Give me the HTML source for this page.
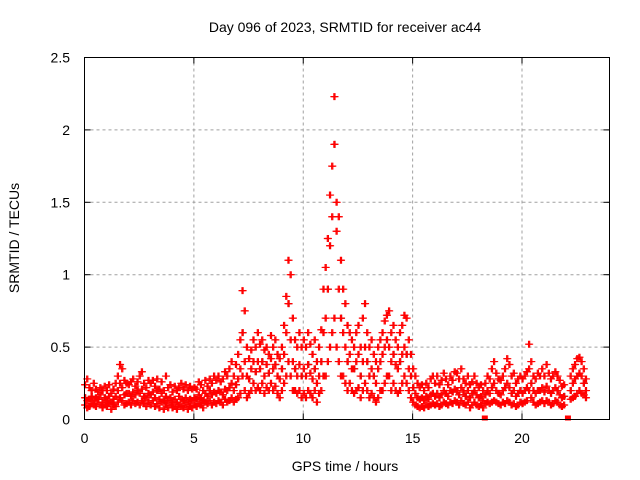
<!DOCTYPE html>
<html><head><meta charset="utf-8"><style>
body{margin:0;background:#fff;}
svg{display:block;font-family:"Liberation Sans",sans-serif;}
</style></head><body>
<svg id="chart" width="640" height="480" viewBox="0 0 640 480" xmlns="http://www.w3.org/2000/svg">
<rect width="640" height="480" fill="#fff"/>
<text x="345" y="32" font-size="14" text-anchor="middle">Day 096 of 2023, SRMTID for receiver ac44</text>
<text x="345" y="471" font-size="14" text-anchor="middle">GPS time / hours</text>
<text transform="translate(19,238) rotate(-90)" font-size="14" text-anchor="middle">SRMTID / TECUs</text>
<g id="grid"></g>
<g id="marks"></g>
<rect x="84.5" y="57.5" width="525" height="362" fill="none" stroke="#000" stroke-width="1"/>
<g id="ticks"></g>
</svg>
<script>
const xTicks=[0,5,10,15,20];
const yTicks=[0,0.5,1,1.5,2,2.5];
const yTickLabels=["0","0.5","1","1.5","2","2.5"];
const startHour=0, stepHour=0.1;
const srmtid=[
[.10,.15,.24],[.08,.13,.28],[.09,.14,.22],[.11,.16,.2],[.1,.13,.25],[.09,.15,.21],[.12,.14,.19],[.1,.17,.22],[.08,.12,.2],[.1,.15,.23],
[.09,.13,.2],[.11,.16,.24],[.07,.12,.18],[.1,.14,.21],[.09,.16,.25],[.12,.2,.3],[.15,.25,.38],[.13,.22,.35],[.1,.17,.27],[.11,.18,.25],
[.12,.18,.24],[.1,.16,.26],[.13,.19,.28],[.11,.17,.23],[.12,.2,.26],[.1,.18,.3],[.13,.21,.33],[.11,.16,.25],[.09,.15,.22],[.12,.18,.27],
[.1,.17,.25],[.13,.19,.27],[.09,.15,.23],[.11,.2,.28],[.08,.14,.21],[.12,.18,.26],[.07,.13,.2],[.1,.16,.3],[.08,.13,.22],[.1,.15,.24],
[.08,.12,.19],[.09,.14,.23],[.07,.12,.2],[.1,.16,.22],[.09,.14,.25],[.08,.13,.21],[.1,.15,.24],[.07,.12,.2],[.09,.14,.23],[.08,.13,.21],
[.1,.15,.22],[.09,.14,.21],[.11,.17,.26],[.1,.15,.24],[.08,.13,.2],[.12,.18,.27],[.11,.16,.23],[.13,.2,.28],[.1,.17,.25],[.12,.19,.3],
[.11,.18,.27],[.13,.2,.3],[.12,.19,.26],[.1,.17,.28],[.14,.21,.33],[.12,.2,.3],[.13,.22,.35],[.15,.25,.4],[.12,.2,.3],[.14,.24,.38],
[.15,.28,.45],[.18,.35,.55],[.3,.6,.89],[.2,.4,.75],[.15,.3,.5],[.18,.28,.42],[.2,.35,.48],[.25,.4,.55],[.2,.33,.5],[.22,.4,.6],
[.2,.35,.52],[.25,.4,.55],[.18,.3,.48],[.22,.38,.5],[.2,.32,.45],[.25,.42,.58],[.2,.35,.5],[.23,.38,.55],[.18,.3,.45],[.15,.28,.42],
[.2,.35,.5],[.25,.45,.65],[.3,.6,.85],[.4,.8,1.1],[.3,.55,1.0],[.2,.4,.7],[.2,.35,.55],[.18,.3,.5],[.2,.38,.6],[.15,.3,.5],
[.18,.35,.55],[.15,.3,.5],[.2,.38,.6],[.18,.32,.52],[.15,.28,.45],[.2,.35,.55],[.12,.25,.4],[.18,.3,.5],[.2,.4,.62],[.3,.6,.9],
[.3,.7,1.05],[.4,.9,1.25],[.5,1.2,1.55],[.6,1.4,1.75],[.7,1.9,2.23],[.5,1.3,1.5],[.4,.9,1.4],[.3,.7,1.1],[.3,.6,.9],[.25,.5,.8],
[.2,.4,.65],[.25,.45,.6],[.2,.35,.55],[.18,.35,.5],[.2,.4,.6],[.22,.45,.65],[.15,.3,.5],[.2,.4,.7],[.25,.5,.8],[.2,.4,.6],
[.15,.3,.5],[.18,.35,.55],[.15,.3,.45],[.12,.25,.4],[.15,.35,.5],[.2,.4,.55],[.2,.45,.6],[.25,.5,.68],[.3,.55,.72],[.3,.5,.75],
[.2,.4,.6],[.25,.45,.65],[.2,.38,.55],[.18,.35,.5],[.2,.4,.6],[.25,.45,.65],[.3,.5,.72],[.25,.45,.7],[.2,.35,.55],[.15,.3,.45],
[.12,.22,.35],[.1,.18,.3],[.09,.15,.25],[.08,.14,.22],[.09,.15,.24],[.08,.13,.2],[.1,.16,.25],[.09,.14,.22],[.1,.17,.28],[.11,.18,.3],
[.1,.16,.25],[.11,.18,.3],[.09,.15,.24],[.1,.17,.27],[.12,.2,.32],[.11,.18,.28],[.1,.16,.24],[.12,.2,.3],[.11,.19,.27],[.13,.21,.33],
[.12,.2,.32],[.1,.17,.28],[.13,.22,.35],[.11,.19,.28],[.1,.16,.25],[.12,.2,.3],[.08,.15,.24],[.1,.18,.26],[.12,.2,.3],[.1,.17,.25],
[.09,.15,.22],[.1,.16,.24],[.08,.13,.2],[.11,.17,.25],[.12,.2,.3],[.11,.18,.28],[.12,.22,.35],[.13,.25,.4],[.12,.2,.32],[.11,.18,.28],
[.1,.17,.27],[.12,.2,.3],[.11,.22,.35],[.13,.25,.42],[.12,.22,.38],[.1,.18,.3],[.11,.2,.32],[.09,.16,.25],[.1,.18,.28],[.12,.2,.3],
[.11,.18,.28],[.12,.2,.3],[.13,.22,.33],[.2,.35,.52],[.15,.25,.4],[.12,.2,.3],[.1,.18,.28],[.11,.2,.32],[.12,.2,.3],[.13,.22,.35],
[.11,.19,.3],[.13,.23,.38],[.12,.2,.32],[.1,.18,.28],[.11,.2,.3],[.13,.22,.33],[.12,.2,.3],[.1,.17,.27],[.09,.15,.23],[.1,.16,.24],
[],[],[.14,.2,.3],[.15,.25,.35],[.16,.28,.38],[.18,.3,.42],[.2,.32,.43],[.18,.3,.4],[.17,.25,.35],[.15,.2,.28]
];
const zeroHours=[18.3,22.1];
const zeroValues=[0,0];

const X0=84.5,X1=609.5,Y0=419.5,Y1=57.5;
const xs=h=>X0+(h-0)/(24-0)*(X1-X0);
const ys=v=>Y0-(v-0)/(2.5-0)*(Y0-Y1);
const NS="http://www.w3.org/2000/svg";
const grid=document.getElementById('grid'),ticks=document.getElementById('ticks'),marks=document.getElementById('marks');
function mk(tag,attrs,parent){const e=document.createElementNS(NS,tag);for(const k in attrs)e.setAttribute(k,attrs[k]);parent.appendChild(e);return e;}
xTicks.forEach(t=>{const x=xs(t);
 if(t>0){const g=mk('line',{x1:x,x2:x,y1:Y0,y2:Y1,stroke:'#a0a0a0','stroke-dasharray':'3,3'},grid);
 
 }
 const a=mk('line',{x1:x,x2:x,y1:Y0,y2:Y0-6,stroke:'#000'},ticks);
 
 
 mk('line',{x1:x,x2:x,y1:Y1,y2:Y1+6,stroke:'#000'},ticks);
 const l=mk('text',{x:x,y:443,'font-size':14,'text-anchor':'middle'},ticks);l.textContent=t;
 
 });
yTicks.forEach((t,i)=>{const y=ys(t);
 if(t>0&&t<2.5){const g=mk('line',{x1:X0,x2:X1,y1:y,y2:y,stroke:'#a0a0a0','stroke-dasharray':'3,3'},grid);
 
 }
 const a=mk('line',{x1:X0,x2:X0+6,y1:y,y2:y,stroke:'#000'},ticks);
 
 
 mk('line',{x1:X1,x2:X1-6,y1:y,y2:y,stroke:'#000'},ticks);
 const l=mk('text',{x:70,y:y+5,'font-size':14,'text-anchor':'end'},ticks);l.textContent=yTickLabels[i];
 
 });
function plus(h,v,color){const x=xs(h),y=ys(v);
 const p=mk('path',{d:`M${x-3.5},${y}h7M${x},${y-3.5}v7`,stroke:color,'stroke-width':1.2,fill:'none'},marks);
 
 }
srmtid.forEach((vals,i)=>{const h=startHour+i*stepHour;
 if(vals.length && i%3===0) plus(h+0.05,vals[1],'#303030');});
srmtid.forEach((vals,i)=>{const h=startHour+i*stepHour;
 vals.forEach(v=>{plus(h,v,'#ff0000');plus(h+0.05,v,'#ff0000');});});
zeroHours.forEach((h,i)=>{const r=mk('rect',{x:xs(h)-3,y:ys(zeroValues[i])-4,width:6,height:5,fill:'#ff0000'},marks);
 
 });
</script>
</body></html>
